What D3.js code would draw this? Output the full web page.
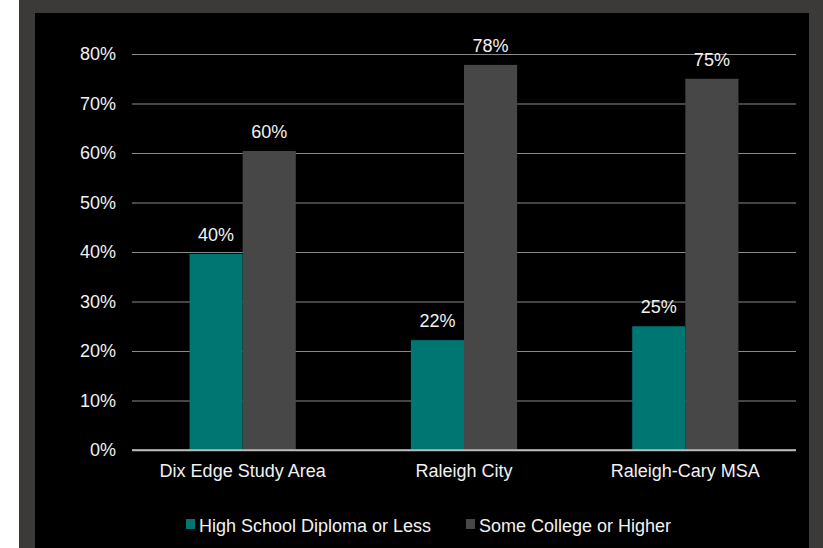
<!DOCTYPE html>
<html>
<head>
<meta charset="utf-8">
<script src="https://cdn.jsdelivr.net/npm/d3@7/dist/d3.min.js"></script>
<style>
  html, body { margin: 0; padding: 0; background: #ffffff; }
  svg { display: block; font-family: "Liberation Sans", Arial, sans-serif; }
</style>
</head>
<body>
<svg id="chart" width="823" height="548"></svg>
<script>
// Educational attainment by geography (share of adult population)
const categories = ["Dix Edge Study Area", "Raleigh City", "Raleigh-Cary MSA"];
const seriesNames = ["High School Diploma or Less", "Some College or Higher"];
const highSchoolOrLess = [39.6, 22.2, 25.0];
const someCollegeOrHigher = [60.4, 77.8, 75.0];
const yTicks = [0, 10, 20, 30, 40, 50, 60, 70, 80];
const seriesColors = ["#007672", "#474747"];

const seriesValues = [highSchoolOrLess, someCollegeOrHigher];
const rows = categories.map((c, i) => ({
  category: c,
  values: seriesNames.map((s, j) => ({ series: s, value: seriesValues[j][i] }))
}));

const svg = d3.select("#chart");
const W = 823, H = 548;

// Frame: grey border with black chart panel
svg.append("rect").attr("x", 19).attr("y", 0).attr("width", W - 19).attr("height", H).attr("fill", "#3b3a38");
svg.append("rect").attr("x", 35).attr("y", 13).attr("width", 809 - 35).attr("height", H - 13).attr("fill", "#000000");

const plot = { left: 132, right: 796, top: 54, bottom: 450 };

const x0 = d3.scaleBand()
  .domain(categories)
  .range([plot.left, plot.right])
  .paddingInner(0.52)
  .paddingOuter(0.26);

const x1 = d3.scaleBand()
  .domain(seriesNames)
  .range([0, x0.bandwidth()]);

const y = d3.scaleLinear()
  .domain([0, 80])
  .range([plot.bottom, plot.top]);

const color = d3.scaleOrdinal().domain(seriesNames).range(seriesColors);
const pct = d3.format(".0f");

// Gridlines and y tick labels
const yAxis = d3.axisLeft(y)
  .tickValues(yTicks)
  .tickSize(-(plot.right - plot.left))
  .tickPadding(16)
  .tickFormat(d => d + "%");

const gy = svg.append("g")
  .attr("transform", `translate(${plot.left},0)`)
  .call(yAxis);
gy.select(".domain").remove();
gy.selectAll(".tick line")
  .attr("stroke", d => d === 0 ? "#bdbdbd" : "#8a8a8a")
  .attr("stroke-width", d => d === 0 ? 1.5 : 1);
gy.selectAll(".tick text")
  .attr("fill", "#f2f2f2")
  .attr("font-size", 18)
  .attr("font-family", "Liberation Sans, Arial, sans-serif");

// Bars
const groups = svg.append("g").selectAll("g")
  .data(rows)
  .join("g")
  .attr("transform", d => `translate(${x0(d.category)},0)`);

groups.selectAll("rect")
  .data(d => d.values)
  .join("rect")
  .attr("x", d => x1(d.series))
  .attr("y", d => y(d.value))
  .attr("width", x1.bandwidth())
  .attr("height", d => y(0) - y(d.value))
  .attr("fill", d => color(d.series));

// Value labels
groups.selectAll("text.value")
  .data(d => d.values)
  .join("text")
  .attr("class", "value")
  .attr("x", d => x1(d.series) + x1.bandwidth() / 2)
  .attr("y", d => y(d.value) - 13)
  .attr("text-anchor", "middle")
  .attr("fill", "#f2f2f2")
  .attr("font-size", 18)
  .text(d => pct(d.value) + "%");

// Zero line redrawn above bars
svg.append("line")
  .attr("x1", plot.left).attr("x2", plot.right)
  .attr("y1", y(0)).attr("y2", y(0))
  .attr("stroke", "#bdbdbd").attr("stroke-width", 1.5);

// Category labels
const xAxis = d3.axisBottom(x0).tickSize(0).tickPadding(14);
const gx = svg.append("g")
  .attr("transform", `translate(0,${plot.bottom})`)
  .call(xAxis);
gx.select(".domain").remove();
gx.selectAll(".tick text")
  .attr("fill", "#f2f2f2")
  .attr("font-size", 18)
  .attr("font-family", "Liberation Sans, Arial, sans-serif");

// Legend
const legendX = [186, 466];
const legend = svg.append("g").selectAll("g")
  .data(seriesNames)
  .join("g")
  .attr("transform", (d, i) => `translate(${legendX[i]},519)`);
legend.append("rect")
  .attr("width", 9).attr("height", 10)
  .attr("fill", d => color(d));
legend.append("text")
  .attr("x", 13).attr("y", 12.5)
  .attr("fill", "#f2f2f2")
  .attr("font-size", 18)
  .text(d => d);
</script>
</body>
</html>
